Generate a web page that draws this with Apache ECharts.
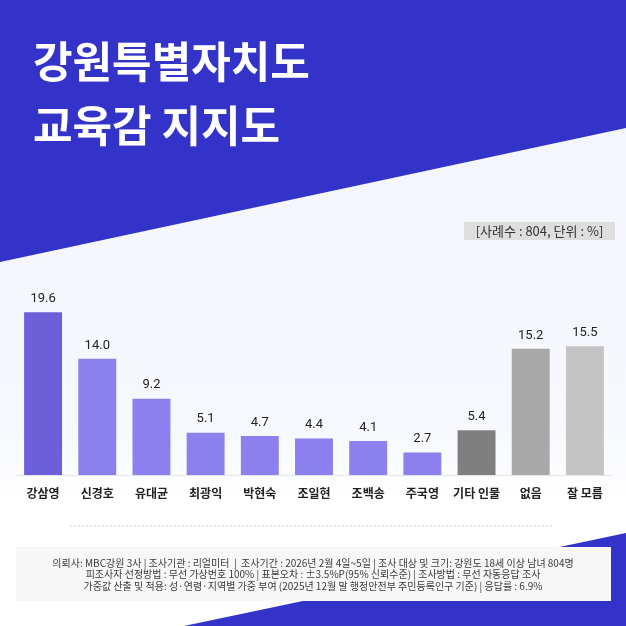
<!DOCTYPE html>
<html><head><meta charset="utf-8">
<script src="https://cdn.jsdelivr.net/npm/echarts@6/dist/echarts.min.js"></script>
<style>html,body{margin:0;padding:0;background:#fff}#c{width:626px;height:626px}</style>
</head><body><div id="c"></div>
<script>
const categories = ['강삼영','신경호','유대균','최광익','박현숙','조일현','조백송','주국영','기타 인물','없음','잘 모름'];
const values = [19.6, 14.0, 9.2, 5.1, 4.7, 4.4, 4.1, 2.7, 5.4, 15.2, 15.5];
const barColors = ['#6c5fd9','#8b80ed','#8b80ed','#8b80ed','#8b80ed','#8b80ed','#8b80ed','#8b80ed','#7f7f7f','#a8a8a8','#c4c4c4'];
const titleText = '강원특별자치도\n교육감 지지도';
const sampleNote = '[사례수 : 804, 단위 : %]';
const footerLines = [
  '의뢰사: MBC강원 3사 | 조사기관 : 리얼미터  |  조사기간 : 2026년 2월 4일~5일 | 조사 대상 및 크기: 강원도 18세 이상 남녀 804명',
  '피조사자 선정방법 : 무선 가상번호 100% | 표본오차 : ±3.5%P(95% 신뢰수준) | 조사방법 : 무선 자동응답 조사',
  '가중값 산출 및 적용: 성·연령·지역별 가중 부여 (2025년 12월 말 행정안전부 주민등록인구 기준) | 응답률 : 6.9%'
];
const KR = '"Noto Sans CJK KR", "Noto Sans", sans-serif';
const chart = echarts.init(document.getElementById('c'));
chart.setOption({
  backgroundColor: '#ffffff',
  animation: false,
  title: {
    text: titleText, left: 33, top: 30, padding: 0,
    textStyle: { color: '#ffffff', fontSize: 43, fontWeight: 'bold', fontFamily: KR, lineHeight: 64 }
  },
  graphic: [
    { type: 'rect', z: -10, shape: { x: 0, y: 0, width: 626, height: 626 },
      style: { fill: new echarts.graphic.LinearGradient(0, 0, 0, 1, [
        { offset: 0, color: '#f2f5fc' }, { offset: 0.68, color: '#f6f8fd' }, { offset: 0.8, color: '#ffffff' }, { offset: 1, color: '#ffffff' }]) } },
    { type: 'polygon', z: -9, shape: { points: [[0,0],[626,0],[626,128],[0,262]] }, style: { fill: '#3333c9' } },
    { type: 'polygon', z: -9, shape: { points: [[184,626],[626,533],[626,626]] }, style: { fill: '#3333c9' } },
    { type: 'rect', z: -8, shape: { x: 16, y: 547, width: 595, height: 54 }, style: { fill: '#f7f7f7' } },
    { type: 'line', z: -8, shape: { x1: 70, y1: 526, x2: 554, y2: 526 }, style: { stroke: '#cfcfcf', lineWidth: 1, lineDash: [2, 2] } },
    { type: 'rect', z: -8, shape: { x: 464, y: 222, width: 151, height: 18 }, style: { fill: '#dedede' } },
    { type: 'text', z: 5, style: { text: sampleNote, x: 539.5, y: 231, align: 'center', verticalAlign: 'middle',
      fill: '#333333', font: '13px ' + KR } },
    { type: 'text', z: 5, style: { text: footerLines.join('\n'), x: 313, y: 574.5, align: 'center', verticalAlign: 'middle',
      fill: '#3a3a3a', font: '10px ' + KR, lineHeight: 11.5 } }
  ],
  grid: { left: 16, right: 14, top: 309, bottom: 151 },
  xAxis: {
    type: 'category', data: categories,
    axisLine: { lineStyle: { color: '#e6e6e6', width: 1 } },
    axisTick: { show: false },
    axisLabel: { color: '#222222', fontSize: 12, fontWeight: 'bold', fontFamily: KR, margin: 12, interval: 0 }
  },
  yAxis: { type: 'value', min: 0, max: 20, show: false, splitLine: { show: false } },
  series: [{
    type: 'bar', barWidth: '70%',
    data: values.map((v, i) => ({ value: v, itemStyle: { color: barColors[i] } })),
    label: { show: true, position: 'top', distance: 7, color: '#222222', fontSize: 13, fontFamily: 'Roboto, sans-serif',
      formatter: p => p.value.toFixed(1) }
  }]
});
</script></body></html>
